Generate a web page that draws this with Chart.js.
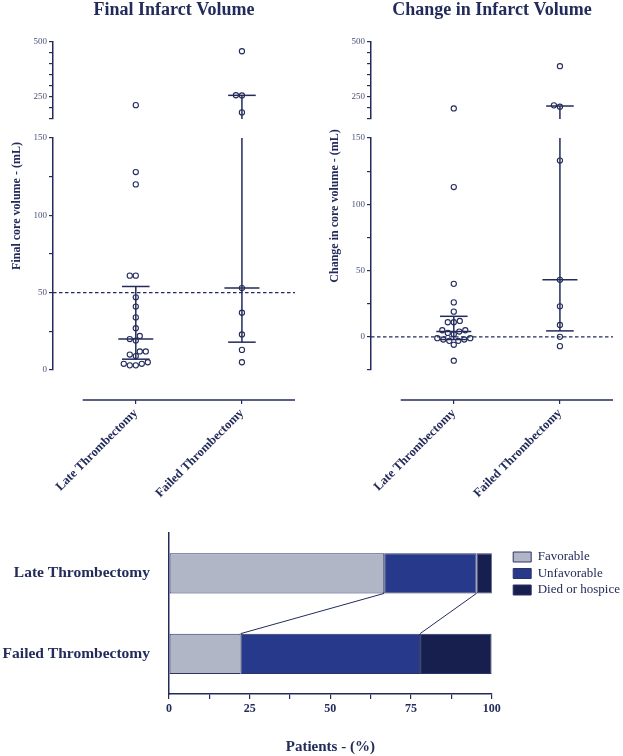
<!DOCTYPE html>
<html>
<head>
<meta charset="utf-8">
<title>Infarct volume and outcome</title>
<script src="https://cdn.jsdelivr.net/npm/chart.js@4.4.1/dist/chart.umd.min.js"></script>
<style>
  body { margin: 0; background: #fff; }
  #wrap { position: relative; width: 623px; height: 756px; }
  canvas { position: absolute; }
  #finalChart { left: 0; top: 0; }
  #changeChart { left: 311px; top: 0; }
  #outcomeChart { left: 0; top: 520px; }
</style>
</head>
<body>
<div id="wrap">
  <canvas id="finalChart" width="311" height="520"></canvas>
  <canvas id="changeChart" width="312" height="520"></canvas>
  <canvas id="outcomeChart" width="623" height="236"></canvas>
</div>
<script>
const groups = ['Late Thrombectomy', 'Failed Thrombectomy'];

// final core volume (mL), one value per patient
const finalLate = [213, 128, 120, 61, 61, 47, 41, 34, 27, 22, 20, 19, 12, 12, 10, 9, 5, 4, 3, 3, 4];
const finalFailed = [458, 258, 257, 180, 53, 37, 23, 13, 5];

// change in core volume (mL)
const changeLate = [198, 113, 40, 26, 19, 12, 11, 11, 5, 4, 5, 3, 2, -1, -1, -2, -2, -3, -3, -6, -18];
const changeFailed = [390, 212, 206, 133, 43, 23, 9, 0, -7];

// broken y axis: upper segment shared, lower segment per panel
const upperRange = [150, 500];
const finalLowerRange = [0, 150];
const changeLowerRange = [-25, 150];
const upperTickLabels = [250, 500];
const lowerTickLabels = [0, 50, 100, 150];
const finalRefLine = 50;
const changeRefLine = 0;

// outcome, % of patients
const outcomeLabels = ['Favorable', 'Unfavorable', 'Died or hospice'];
const favorable = [66.7, 22.2];
const unfavorable = [28.6, 55.6];
const died = [4.8, 22.2];
const outcomeTickLabels = [0, 25, 50, 75, 100];

const NAVY = '#232b5a';
const TICK_GRAY = '#4b5175';
const SERIF = '"Liberation Serif", "Times New Roman", serif';
const xMin = 0.22, xMax = 2.5;
const xAxisSpan = [0.5, 2.5];

// quartiles the way Prism does it: position (n + 1) * p
function quantile(values, p) {
  const s = [...values].sort((a, b) => a - b);
  const pos = (s.length + 1) * p;
  const lo = Math.floor(pos), hi = Math.ceil(pos);
  const a = s[Math.max(lo, 1) - 1];
  const b = s[Math.min(hi, s.length) - 1];
  return a + (b - a) * (pos - lo);
}

function segmentFor(v, lowerRange) {
  return v > lowerRange[1] ? 'yTop' : 'y';
}

function segLine(datasets, axis, pts) {
  datasets.push({
    type: 'line', yAxisID: axis, data: pts,
    borderColor: NAVY, borderWidth: 1.5, pointRadius: 0, fill: false, order: 1
  });
}

// axis line (detached from the y axis) and the rotated y title
const panelDecor = {
  id: 'panelDecor',
  afterDraw(chart, args, opts) {
    const { ctx, scales: { x, y, yTop } } = chart;
    ctx.save();
    ctx.strokeStyle = NAVY;
    ctx.lineWidth = 1.5;
    ctx.beginPath();
    ctx.moveTo(x.getPixelForValue(xAxisSpan[0]), x.top);
    ctx.lineTo(x.getPixelForValue(xAxisSpan[1]), x.top);
    ctx.stroke();
    ctx.translate(chart.chartArea.left - 36, (yTop.top + y.bottom) / 2);
    ctx.rotate(-Math.PI / 2);
    ctx.font = 'bold 12px ' + SERIF;
    ctx.fillStyle = NAVY;
    ctx.textAlign = 'center';
    ctx.textBaseline = 'middle';
    ctx.fillText(opts.text, 0, 0);
    ctx.restore();
  }
};

// spread overlapping dots sideways, in pixels, then convert back to x units
function swarm(chart) {
  const xs = chart.scales.x;
  const pxPerUnit = xs.getPixelForValue(1) - xs.getPixelForValue(0);
  const minGap = 6;
  chart.data.datasets.filter(ds => ds.swarm).forEach(ds => {
    const ys = chart.scales[ds.yAxisID];
    const placed = {};
    const order = ds.data.map((p, i) => i).sort((a, b) => ds.data[a].y - ds.data[b].y);
    order.forEach(i => {
      const p = ds.data[i];
      const py = ys.getPixelForValue(p.y);
      const list = placed[p.cat] || (placed[p.cat] = []);
      let dx = 0;
      for (let k = 0; k < 400; k++) {
        const cand = (k % 2 ? -1 : 1) * Math.ceil(k / 2) * 0.5;
        if (list.every(q => Math.hypot(q.dx - cand, q.py - py) >= minGap)) { dx = cand; break; }
      }
      list.push({ dx, py });
      p.x = p.cat + dx / pxPerUnit;
    });
  });
  chart.update('none');
}

function yAxis(extra) {
  return Object.assign({
    type: 'linear', position: 'left', stack: 'v',
    border: { color: NAVY, width: 1.5 },
    grid: { display: true, drawOnChartArea: false, drawTicks: true, tickLength: 4, color: NAVY, lineWidth: 1.2 },
    afterFit: s => { s.width = 30; }
  }, extra);
}

function buildPanel(id, title, yTitle, seriesList, lowerRange, refLine, pad) {
  const datasets = [];

  ['y', 'yTop'].forEach(axis => {
    const pts = [];
    seriesList.forEach((vals, g) => vals.forEach(v => {
      if (segmentFor(v, lowerRange) === axis) pts.push({ x: g + 1, y: v, cat: g + 1 });
    }));
    datasets.push({
      type: 'scatter', yAxisID: axis, data: pts, swarm: true,
      pointRadius: 2.6, pointBorderWidth: 1.1,
      pointBorderColor: NAVY, pointBackgroundColor: 'rgba(0,0,0,0)', order: 2
    });
  });

  seriesList.forEach((vals, g) => {
    const c = g + 1;
    const q1 = quantile(vals, 0.25), med = quantile(vals, 0.5), q3 = quantile(vals, 0.75);
    segLine(datasets, 'y', [{ x: c, y: q1 }, { x: c, y: Math.min(q3, lowerRange[1]) }]);
    if (q3 > upperRange[0]) segLine(datasets, 'yTop', [{ x: c, y: upperRange[0] }, { x: c, y: q3 }]);
    [[q1, 0.13], [med, 0.165], [q3, 0.13]].forEach(([v, hw]) => {
      segLine(datasets, segmentFor(v, lowerRange), [{ x: c - hw, y: v }, { x: c + hw, y: v }]);
    });
  });

  datasets.push({
    type: 'line', yAxisID: 'y', data: [{ x: xMin, y: refLine }, { x: xMax, y: refLine }],
    borderColor: NAVY, borderWidth: 1.1, borderDash: [3.5, 2.5], pointRadius: 0, order: 1
  });

  const tickFont = { family: SERIF, size: 9 };
  const chart = new Chart(document.getElementById(id), {
    type: 'scatter',
    data: { datasets },
    options: {
      responsive: false,
      animation: false,
      events: [],
      layout: { padding: pad },
      scales: {
        x: {
          type: 'linear', position: 'bottom', min: xMin, max: xMax,
          border: { display: false },
          grid: { display: true, drawOnChartArea: false, drawTicks: true, tickLength: 4, color: NAVY, lineWidth: 1.2 },
          afterBuildTicks: s => { s.ticks = groups.map((g, i) => ({ value: i + 1 })); },
          ticks: {
            autoSkip: false, minRotation: 45, maxRotation: 45, padding: 2,
            callback: (v, i) => groups[i],
            font: { family: SERIF, size: 12.5, weight: 'bold' }, color: NAVY
          },
          afterFit: s => { s.height = 120; }
        },
        yTop: yAxis({
          min: upperRange[0], max: upperRange[1], weight: 4, stackWeight: 77,
          ticks: { stepSize: 50, autoSkip: false, padding: 2, font: tickFont, color: TICK_GRAY,
            callback: v => upperTickLabels.includes(v) ? v : '' }
        }),
        gap: { type: 'linear', position: 'left', stack: 'v', weight: 3, stackWeight: 19, display: false },
        y: yAxis({
          min: lowerRange[0], max: lowerRange[1], weight: 2, stackWeight: 232,
          ticks: { stepSize: 25, autoSkip: false, padding: 2, font: tickFont, color: TICK_GRAY,
            callback: v => lowerTickLabels.includes(v) ? v : '' }
        }),
        pad: { type: 'linear', position: 'left', stack: 'v', weight: 1, stackWeight: 30, display: false }
      },
      plugins: {
        legend: { display: false },
        tooltip: { enabled: false },
        title: {
          display: true, text: title, fullSize: false, color: NAVY,
          font: { family: SERIF, size: 18, weight: 'bold' },
          padding: { top: 0, bottom: 20.4 }
        },
        panelDecor: { text: yTitle }
      }
    },
    plugins: [panelDecor]
  });
  swarm(chart);
  return chart;
}

buildPanel('finalChart', 'Final Infarct Volume', 'Final core volume - (mL)',
  [finalLate, finalFailed], finalLowerRange, finalRefLine, { left: 23, right: 16, top: 0, bottom: 0 });
buildPanel('changeChart', 'Change in Infarct Volume', 'Change in core volume - (mL)',
  [changeLate, changeFailed], changeLowerRange, changeRefLine, { left: 30, right: 10, top: 0, bottom: 0 });

// thin lines joining the segment ends of the two bars
const connectLines = {
  id: 'connectLines',
  afterDatasetsDraw(chart) {
    const { ctx } = chart;
    ctx.save();
    ctx.strokeStyle = NAVY;
    ctx.lineWidth = 1;
    [0, 1].forEach(di => {
      const [a, b] = chart.getDatasetMeta(di).data;
      ctx.beginPath();
      ctx.moveTo(a.x, a.y + a.height / 2);
      ctx.lineTo(b.x, b.y - b.height / 2);
      ctx.stroke();
    });
    ctx.restore();
  }
};

const barFills = ['#b1b6c7', '#27398a', '#171f4e'];
new Chart(document.getElementById('outcomeChart'), {
  type: 'bar',
  data: {
    labels: groups,
    datasets: [favorable, unfavorable, died].map((vals, i) => ({
      label: outcomeLabels[i], data: vals, backgroundColor: barFills[i],
      borderColor: '#2c3466', borderWidth: 1, borderSkipped: false,
      barPercentage: 0.5, categoryPercentage: 1
    }))
  },
  options: {
    indexAxis: 'y',
    responsive: false,
    animation: false,
    events: [],
    layout: { padding: { top: 13, right: -7, left: 0, bottom: 0 } },
    scales: {
      y: {
        stacked: true,
        border: { color: NAVY, width: 1.5 },
        grid: { display: false, drawTicks: false },
        ticks: { font: { family: SERIF, size: 15.5, weight: 'bold' }, color: NAVY, padding: 19 },
        // labels sit well left of the axis; keep that padding out of the chart area
        afterFit: s => { s.width = 169; s.paddingTop = 0; s.paddingBottom = 0; }
      },
      x: {
        stacked: true, min: 0, max: 100,
        border: { color: NAVY, width: 1.5 },
        grid: { drawOnChartArea: false, drawTicks: true, tickLength: 5, color: NAVY, lineWidth: 1.2 },
        ticks: {
          stepSize: 12.5, autoSkip: false, maxRotation: 0, padding: 3,
          callback: v => outcomeTickLabels.includes(v) ? v : '',
          font: { family: SERIF, size: 12, weight: 'bold' }, color: NAVY
        },
        title: {
          display: true, text: 'Patients - (%)', color: NAVY,
          font: { family: SERIF, size: 15, weight: 'bold' }, padding: { top: 0, bottom: 0 }
        },
        afterFit: s => { s.height = 62; }
      },
      gapR: { type: 'linear', position: 'right', display: false, afterFit: s => { s.width = 18; } }
    },
    plugins: {
      tooltip: { enabled: false },
      legend: {
        position: 'right', align: 'start',
        title: { display: true, text: ' ', font: { size: 10 }, padding: { top: 0, bottom: 2 } },
        labels: { boxWidth: 18, boxHeight: 10, padding: 3.5, color: NAVY, font: { family: SERIF, size: 13 } }
      }
    }
  },
  plugins: [connectLines]
});
</script>
</body>
</html>
